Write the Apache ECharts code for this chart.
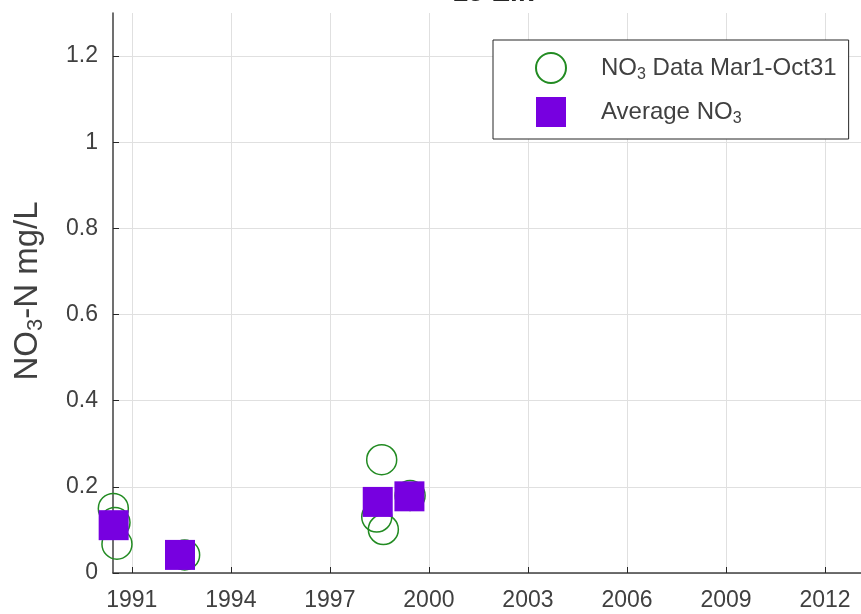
<!DOCTYPE html>
<html>
<head>
<meta charset="utf-8">
<script src="https://cdn.jsdelivr.net/npm/echarts@6/dist/echarts.min.js"></script>
<style>html,body{margin:0;padding:0;background:#fff}#c{width:861px;height:614px}</style>
</head>
<body>
<div id="c"></div>
<script>
// Individual NO3 samples (decimal year, mg/L)
var dataYears = [1990.44, 1990.49, 1990.55, 1992.6, 1998.42, 1998.57, 1998.62, 1999.43];
var dataValues = [0.150, 0.117, 0.067, 0.042, 0.130, 0.263, 0.101, 0.180];
// Averages
var avgYears = [1990.45, 1992.46, 1998.45, 1999.41];
var avgValues = [0.111, 0.042, 0.165, 0.178];
// Ticks
var xTicks = [1991, 1994, 1997, 2000, 2003, 2006, 2009, 2012];
var yTicks = [0, 0.2, 0.4, 0.6, 0.8, 1, 1.2];

var chart = echarts.init(document.getElementById('c'));
var axisColor = '#262626';
var labelColor = '#404040';
var gridColor = '#e0e0e0';
var font = 'Liberation Sans, Arial, sans-serif';

chart.setOption({
  animation: false,
  backgroundColor: '#ffffff',
  title: {
    text: '15 Elk',
    left: 488, top: -26, textAlign: 'center',
    textStyle: {fontFamily: font, fontSize: 28, fontWeight: 'bold', color: axisColor}
  },
  grid: {left: 113, top: 13, bottom: 41, right: 0},
  legend: {
    orient: 'vertical',
    left: 493, top: 40,
    padding: [12, 12, 12, 42],
    itemWidth: 30, itemHeight: 30, itemGap: 13,
    borderColor: axisColor, borderWidth: 1,
    backgroundColor: '#ffffff',
    data: ['NO3 Data Mar1-Oct31', 'Average NO3'],
    formatter: function (n) {
      return n === 'Average NO3' ? '{sp|}{a|Average NO}{s|3}' : '{sp|}{a|NO}{s|3}{a| Data Mar1-Oct31}';
    },
    textStyle: {
      fontFamily: font, color: labelColor,
      rich: {
        sp: {width: 30, lineHeight: 30},
        a: {fontFamily: font, fontSize: 24, color: labelColor, lineHeight: 30},
        s: {fontFamily: font, fontSize: 16, color: labelColor, lineHeight: 12, verticalAlign: 'bottom'}
      }
    }
  },
  xAxis: {
    type: 'value', min: 1990.43, max: 2013.09,
    axisLine: {show: true, lineStyle: {color: labelColor, width: 1.5}},
    axisTick: {show: true, inside: true, length: 6, customValues: xTicks, lineStyle: {color: axisColor}},
    axisLabel: {customValues: xTicks, fontFamily: font, fontSize: 23, color: labelColor, margin: 16,
      formatter: function (v) { return String(v); }},
    splitLine: {show: true, lineStyle: {color: gridColor, width: 1}}
  },
  yAxis: {
    type: 'value', min: 0, max: 1.3,
    name: '{a|NO}{s|3}{a|-N mg/L}',
    nameLocation: 'middle', nameRotate: 90, nameGap: 66,
    nameTextStyle: {
      padding: [0, 0, 0, 4],
      rich: {
        a: {fontFamily: font, fontSize: 33, color: labelColor, lineHeight: 38},
        s: {fontFamily: font, fontSize: 22, color: labelColor, lineHeight: 14, verticalAlign: 'bottom'}
      }
    },
    axisLine: {show: true, lineStyle: {color: labelColor, width: 1.5}},
    axisTick: {show: true, inside: true, length: 6, customValues: yTicks, lineStyle: {color: axisColor}},
    axisLabel: {customValues: yTicks, fontFamily: font, fontSize: 23, color: labelColor, margin: 15},
    splitLine: {show: true, lineStyle: {color: gridColor, width: 1}}
  },
  series: [
    {
      name: 'NO3 Data Mar1-Oct31', type: 'scatter', symbol: 'circle', symbolSize: 30,
      itemStyle: {color: 'rgba(255,255,255,0)', borderColor: '#228b22', borderWidth: 1.5, opacity: 1},
      data: dataYears.map(function (y, i) { return [y, dataValues[i]]; })
    },
    {
      name: 'Average NO3', type: 'scatter', symbol: 'rect', symbolSize: 30,
      itemStyle: {color: '#7700e0', opacity: 1},
      data: avgYears.map(function (y, i) { return [y, avgValues[i]]; })
    }
  ]
});
</script>
</body>
</html>
